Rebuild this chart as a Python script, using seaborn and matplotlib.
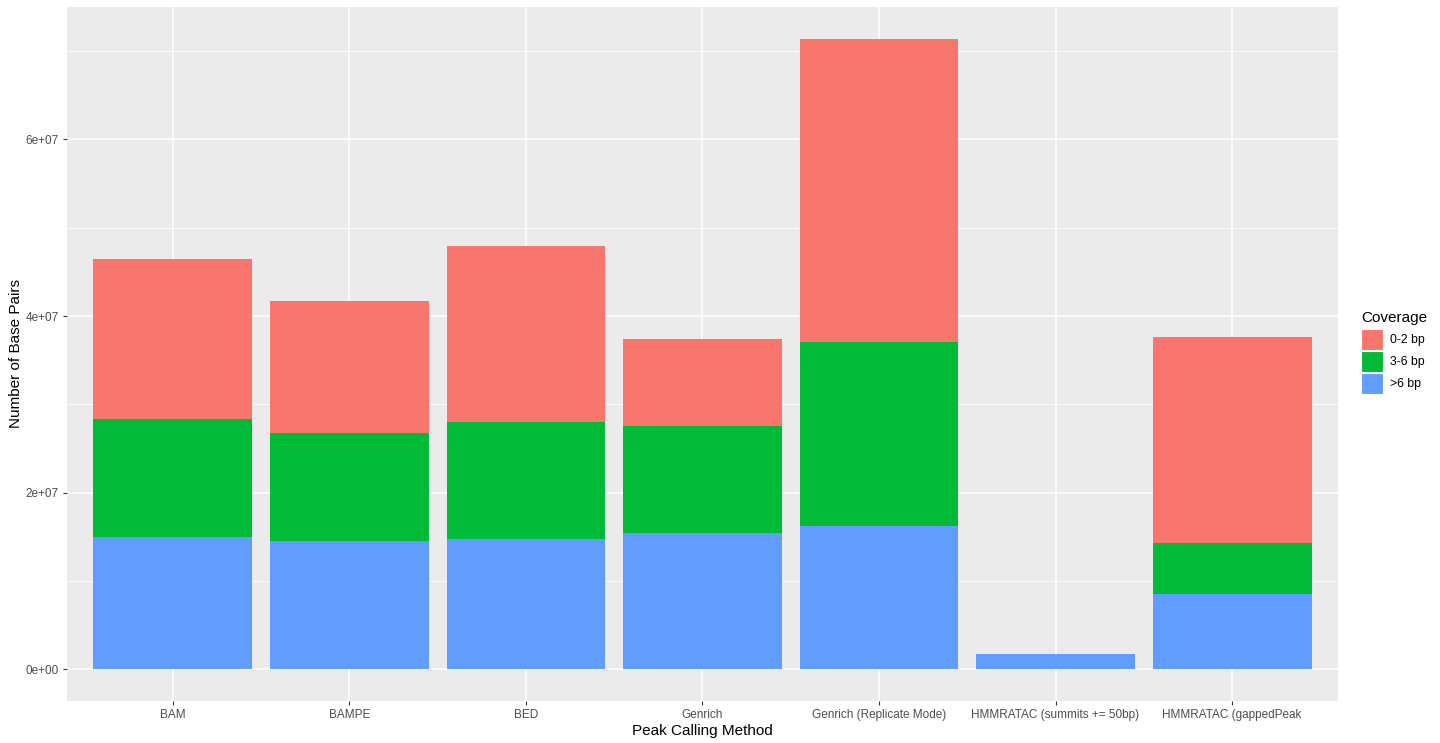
import pandas as pd
import seaborn as sns
import matplotlib.pyplot as plt
from matplotlib.patches import Patch
from matplotlib.ticker import FuncFormatter, MultipleLocator

methods = ['BAM', 'BAMPE', 'BED', 'Genrich', 'Genrich (Replicate Mode)',
           'HMMRATAC (summits += 50bp)', 'HMMRATAC (gappedPeak']
coverage = ['0-2 bp', '3-6 bp', '>6 bp']
colors = ['#F8766D', '#00BA38', '#619CFF']

# base pairs per coverage class (segments of each stacked bar)
bp_0_2 = [18.1e6, 14.9e6, 19.9e6, 9.8e6, 34.3e6, 0.0, 23.3e6]
bp_3_6 = [13.4e6, 12.2e6, 13.2e6, 12.1e6, 20.9e6, 0.0, 5.7e6]
bp_gt6 = [15.0e6, 14.6e6, 14.8e6, 15.5e6, 16.2e6, 1.8e6, 8.6e6]

df = pd.DataFrame({'method': methods, '0-2 bp': bp_0_2, '3-6 bp': bp_3_6, '>6 bp': bp_gt6})
# cumulative heights so bars can be layered tallest first
df['top_red'] = df['>6 bp'] + df['3-6 bp'] + df['0-2 bp']
df['top_green'] = df['>6 bp'] + df['3-6 bp']
df['top_blue'] = df['>6 bp']

plt.rcParams['font.family'] = ['Liberation Sans', 'DejaVu Sans']
fig = plt.figure(figsize=(14.4, 7.43), dpi=100)
ax = fig.add_axes([67 / 1440, 42 / 743, 1271 / 1440, 694 / 743])
ax.set_facecolor('#EBEBEB')

for col, c in zip(['top_red', 'top_green', 'top_blue'], colors):
    sns.barplot(data=df, x='method', y=col, order=methods, color=c,
                width=0.9, saturation=1, ax=ax, zorder=3, edgecolor='none')

ax.set_xlim(-0.6, len(methods) - 0.4)
ax.set_ylim(-3.57e6, 75.0e6)
ax.yaxis.set_major_locator(MultipleLocator(2e7))
ax.yaxis.set_minor_locator(MultipleLocator(1e7))
ax.yaxis.set_major_formatter(FuncFormatter(lambda v, p: f'{v:.0e}'))
ax.grid(which='major', color='white', linewidth=1.1, zorder=0)
ax.grid(which='minor', axis='y', color='white', linewidth=0.55, zorder=0)
ax.set_axisbelow(True)
for s in ax.spines.values():
    s.set_visible(False)
ax.tick_params(which='major', length=3, width=0.8, color='#333333',
               labelsize=8.5, labelcolor='#4D4D4D', pad=3)
ax.tick_params(which='minor', length=0)

ax.set_xlabel('Peak Calling Method', fontsize=11, color='black', labelpad=2)
ax.set_ylabel('Number of Base Pairs', fontsize=11, color='black', labelpad=2)

handles = [Patch(facecolor=c, edgecolor='white', linewidth=0.8, label=l)
           for c, l in zip(colors, coverage)]
fig.legend(handles=handles, title='Coverage', loc='upper left',
           bbox_to_anchor=(1350 / 1440, 1 - 300 / 743), frameon=False,
           fontsize=8.8, title_fontsize=11, handlelength=1.8, handleheight=2.2,
           labelspacing=0.12, handletextpad=0.6, alignment='left')
leg = fig.legends[0]
leg._legend_box.sep = 3

fig.savefig('out.png', dpi=100)
